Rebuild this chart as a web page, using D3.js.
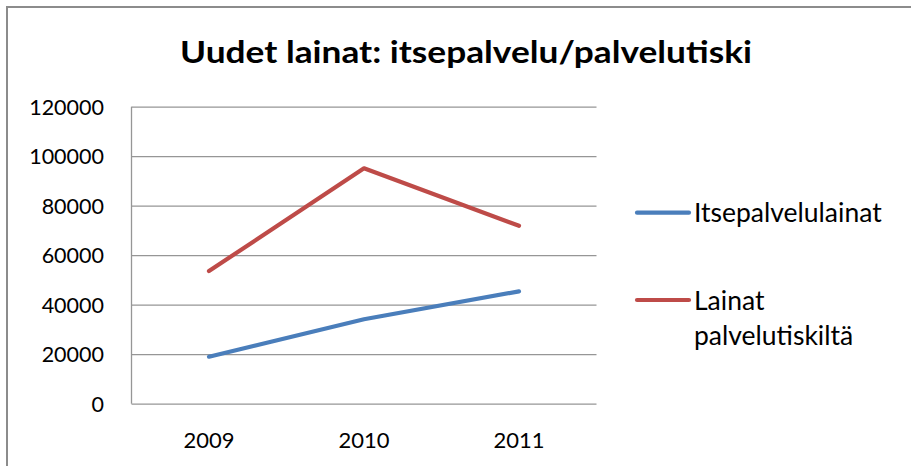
<!DOCTYPE html>
<html><head><meta charset="utf-8">
<script src="https://cdn.jsdelivr.net/npm/d3@7"></script>
<style>html,body{margin:0;padding:0;background:#fff;}svg{display:block;}</style>
</head><body>
<svg id="c" width="911" height="466"></svg>
<script>
const categories = ["2009", "2010", "2011"];
const seriesNames = ["Itsepalvelulainat", "Lainat palvelutiskiltä"];
const itsepalvelulainat = [19000, 34100, 45400];
const lainatPalvelutiskilta = [53600, 95100, 71900];
const yTicks = [0, 20000, 40000, 60000, 80000, 100000, 120000];
const titleText = "Uudet lainat: itsepalvelu/palvelutiski";
const colors = ["#4A7EBB", "#BE4B48"];

const svg = d3.select("#c");
const font = "Lato, 'Open Sans', sans-serif";

// outer border (left & top visible)
svg.append("path").attr("d", "M7,466 L7,7 L911,7").attr("fill", "none")
  .attr("stroke", "#8c8c8c").attr("stroke-width", 2);

const x0 = 131.5, x1 = 596.5, yTop = 106.7, yBot = 403.7;
const x = d3.scaleBand().domain(categories).range([x0, x1]);
const y = d3.scaleLinear().domain([0, 120000]).range([yBot, yTop]);

// title
svg.append("text").attr("x", 466).attr("y", 63).attr("text-anchor", "middle")
  .attr("font-family", font).attr("font-weight", "bold").attr("font-size", 30)
  .attr("textLength", 572).attr("lengthAdjust", "spacingAndGlyphs")
  .attr("fill", "#000").text(titleText);

// gridlines
const yAxis = d3.axisLeft(y).tickValues(yTicks).tickSize(-(x1 - x0)).tickFormat(d => d);
const gy = svg.append("g").attr("transform", `translate(${x0},0)`).call(yAxis);
gy.select(".domain").remove();
gy.selectAll(".tick line").attr("stroke", "#969696").attr("stroke-width", 1.3);
gy.selectAll(".tick text").attr("x", -27.5).attr("font-family", font).attr("font-size", 21.5)
  .attr("fill", "#000").attr("dy", "0.36em");
// vertical axis line
svg.append("line").attr("x1", x0).attr("x2", x0).attr("y1", yTop).attr("y2", yBot)
  .attr("stroke", "#969696").attr("stroke-width", 1.3);

// x axis labels
const xAxis = d3.axisBottom(x).tickSize(0).tickPadding(0);
const gx = svg.append("g").attr("transform", `translate(0,${yBot})`).call(xAxis);
gx.select(".domain").remove();
gx.selectAll(".tick text").attr("y", 44).attr("dy", 0).attr("font-family", font)
  .attr("font-size", 22).attr("fill", "#000");

// lines
const line = d3.line().x((d, i) => x(categories[i]) + x.bandwidth() / 2).y(d => y(d));
[itsepalvelulainat, lainatPalvelutiskilta].forEach((s, i) => {
  svg.append("path").datum(s).attr("d", line).attr("fill", "none")
    .attr("stroke", colors[i]).attr("stroke-width", 4.2)
    .attr("stroke-linecap", "round").attr("stroke-linejoin", "round");
});

// legend
const leg = svg.append("g");
const legY = [212.7, 300];
seriesNames.forEach((name, i) => {
  leg.append("line").attr("x1", 637).attr("x2", 689).attr("y1", legY[i]).attr("y2", legY[i])
    .attr("stroke", colors[i]).attr("stroke-width", 4.2).attr("stroke-linecap", "round");
});
leg.append("text").attr("x", 694).attr("y", 222).attr("font-family", font).attr("font-size", 26.5)
  .attr("fill", "#000").text("Itsepalvelulainat");
const parts = seriesNames[1].split(" ");
const t2 = leg.append("text").attr("font-family", font).attr("font-size", 26.5).attr("fill", "#000");
t2.append("tspan").attr("x", 694).attr("y", 310).text(parts[0]);
t2.append("tspan").attr("x", 694).attr("y", 345).text(parts[1]);
</script>
</body></html>
